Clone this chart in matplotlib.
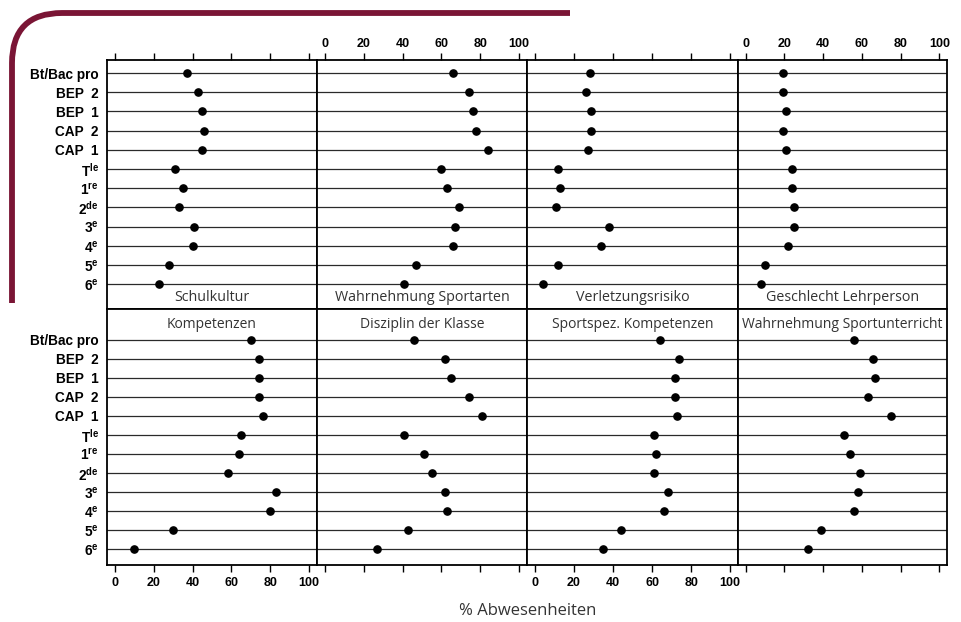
import numpy as np
import matplotlib
matplotlib.use("Agg")
import matplotlib.pyplot as plt
from matplotlib.path import Path
from matplotlib.patches import PathPatch

# Klassenstufen (von oben nach unten)
klassen = ['Bt/Bac pro', 'BEP  2', 'BEP  1', 'CAP  2', 'CAP  1',
           r'T$^{\mathregular{le}}$', r'1$^{\mathregular{re}}$', r'2$^{\mathregular{de}}$',
           r'3$^{\mathregular{e}}$', r'4$^{\mathregular{e}}$', r'5$^{\mathregular{e}}$',
           r'6$^{\mathregular{e}}$']

schulkultur = [37, 43, 45, 46, 45, 31, 35, 33, 41, 40, 28, 23]
wahrn_sportarten = [66, 74, 76, 78, 84, 60, 63, 69, 67, 66, 47, 41]
verletzungsrisiko = [28, 26, 29, 29, 27, 12, 13, 11, 38, 34, 12, 4]
geschlecht = [19, 19, 21, 19, 21, 24, 24, 25, 25, 22, 10, 8]
kompetenzen = [70, 74, 74, 74, 76, 65, 64, 58, 83, 80, 30, 10]
disziplin = [46, 62, 65, 74, 81, 41, 51, 55, 62, 63, 43, 27]
sportspez = [64, 74, 72, 72, 73, 61, 62, 61, 68, 66, 44, 35]
wahrn_unterricht = [56, 66, 67, 63, 75, 51, 54, 59, 58, 56, 39, 32]

oben = [('Schulkultur', schulkultur), ('Wahrnehmung Sportarten', wahrn_sportarten),
        ('Verletzungsrisiko', verletzungsrisiko), ('Geschlecht Lehrperson', geschlecht)]
unten = [('Kompetenzen', kompetenzen), ('Disziplin der Klasse', disziplin),
         ('Sportspez. Kompetenzen', sportspez), ('Wahrnehmung Sportunterricht', wahrn_unterricht)]

W, H = 962, 622
fig = plt.figure(figsize=(W / 100, H / 100), dpi=100)

spalten = [107, 317, 527, 738, 947]
titel_font = 'Open Sans'
tick_font = 'Liberation Sans'
y = np.arange(len(klassen))


def panel(x0, x1, y0, y1, daten, titel, ylim, oben_reihe, i):
    ax = fig.add_axes([x0 / W, 1 - y1 / H, (x1 - x0) / W, (y1 - y0) / H])
    for yy in y:
        ax.axhline(yy, color='#2a2a2a', lw=0.9, zorder=1)
    ax.plot(daten, y, 'o', color='black', ms=5.2, zorder=3)
    ax.set_xlim(-4, 104)
    ax.set_ylim(*ylim)
    for s in ax.spines.values():
        s.set_linewidth(1.3)
    ax.set_xticks([0, 20, 40, 60, 80, 100])
    if oben_reihe:
        ax.xaxis.set_ticks_position('top')
        ax.tick_params(axis='x', top=True, bottom=False, labeltop=(i % 2 == 1),
                       labelbottom=False, direction='out', length=5, width=1, pad=2)
        ax.text(0.5, 0.048, titel, transform=ax.transAxes, ha='center', va='center',
                fontsize=10.3, family=titel_font, color='#333333')
    else:
        ax.tick_params(axis='x', bottom=True, top=False, labelbottom=(i % 2 == 0),
                       direction='out', length=5, width=1, pad=4)
        ax.text(0.5, 0.9375, titel, transform=ax.transAxes, ha='center', va='center',
                fontsize=10, family=titel_font, color='#333333')
    for lab in ax.get_xticklabels():
        lab.set_family(tick_font)
        lab.set_fontweight('bold')
        lab.set_fontsize(9)
    if i == 0:
        ax.set_yticks(y)
        ax.set_yticklabels(klassen, family=tick_font, fontweight='bold', fontsize=9.8)
        ax.tick_params(axis='y', length=0, pad=6)
    else:
        ax.set_yticks([])
    return ax


for i, (titel, daten) in enumerate(oben):
    panel(spalten[i], spalten[i + 1], 60, 309, daten, titel, (12.3, -0.68), True, i)
for i, (titel, daten) in enumerate(unten):
    panel(spalten[i], spalten[i + 1], 309, 565, daten, titel, (11.84, -1.63), False, i)

fig.text(528 / W, 1 - 611 / H, '% Abwesenheiten', ha='center', va='center',
         fontsize=12, family=titel_font, color='#333333')

# Zierlinie oben links
r = 50
verts = [(570, 13), (12 + r, 13), (12, 13), (12, 13 + r), (12, 303)]
verts = [(vx / W, 1 - vy / H) for vx, vy in verts]
codes = [Path.MOVETO, Path.LINETO, Path.CURVE3, Path.CURVE3, Path.LINETO]
fig.patches.append(PathPatch(Path(verts, codes), transform=fig.transFigure,
                             fill=False, edgecolor='#7a1535', lw=4.2, capstyle='butt'))

fig.savefig('out.png', dpi=100)
